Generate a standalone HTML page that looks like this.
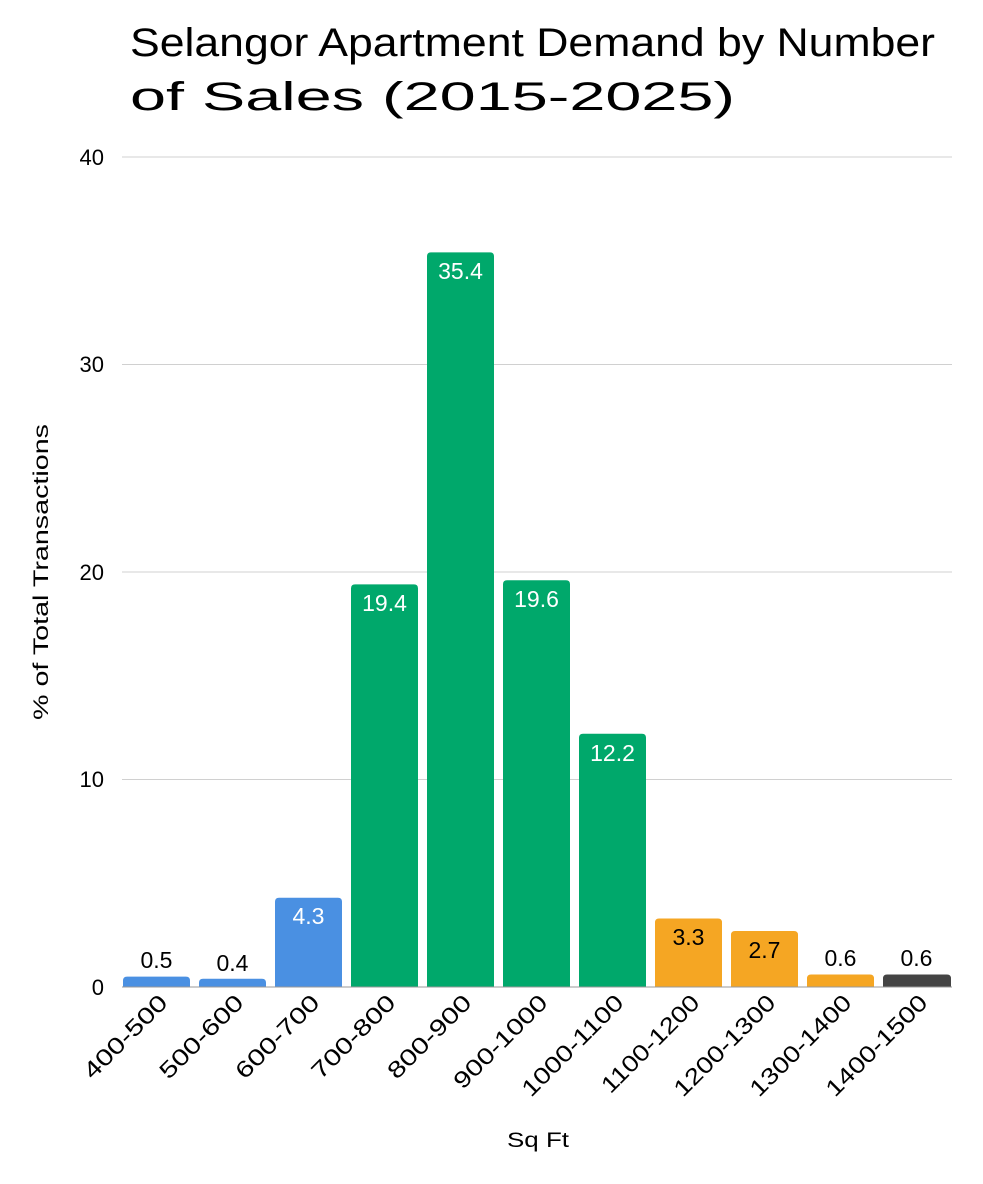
<!DOCTYPE html>
<html><head><meta charset="utf-8"><style>
html,body{margin:0;padding:0;background:#fff}
svg{display:block;font-family:"Liberation Sans",sans-serif}
</style></head><body>
<svg width="983" height="1184" viewBox="0 0 983 1184" xmlns="http://www.w3.org/2000/svg">
<text x="130" y="56" font-size="40" textLength="805" lengthAdjust="spacingAndGlyphs" fill="#000">Selangor Apartment Demand by Number</text>
<text x="130" y="110" font-size="40" textLength="605" lengthAdjust="spacingAndGlyphs" fill="#000">of Sales (2015-2025)</text>
<g stroke="#d0d0d0" stroke-width="1">
<line x1="122" y1="157" x2="952" y2="157"/>
<line x1="122" y1="364.5" x2="952" y2="364.5"/>
<line x1="122" y1="572" x2="952" y2="572"/>
<line x1="122" y1="779.5" x2="952" y2="779.5"/>
</g>
<g font-size="22" text-anchor="end" fill="#000">
<text x="104" y="165">40</text>
<text x="104" y="372">30</text>
<text x="104" y="580">20</text>
<text x="104" y="787">10</text>
<text x="104" y="995">0</text>
</g>
<text transform="translate(48,572) rotate(-90)" font-size="21" text-anchor="middle" textLength="296" lengthAdjust="spacingAndGlyphs">% of Total Transactions</text>
<text x="538" y="1147" font-size="21" text-anchor="middle" textLength="62" lengthAdjust="spacingAndGlyphs">Sq Ft</text>

<path d="M123 987V980.6Q123 976.6 127 976.6H186Q190 976.6 190 980.6V987Z" fill="#4a90e2"/>
<path d="M199 987V982.7Q199 978.7 203 978.7H262Q266 978.7 266 982.7V987Z" fill="#4a90e2"/>
<path d="M275 987V901.8Q275 897.8 279 897.8H338Q342 897.8 342 901.8V987Z" fill="#4a90e2"/>
<path d="M351 987V588.4Q351 584.4 355 584.4H414Q418 584.4 418 588.4V987Z" fill="#00a86b"/>
<path d="M427 987V256.4Q427 252.4 431 252.4H490Q494 252.4 494 256.4V987Z" fill="#00a86b"/>
<path d="M503 987V584.3Q503 580.3 507 580.3H566Q570 580.3 570 584.3V987Z" fill="#00a86b"/>
<path d="M579 987V737.8Q579 733.8 583 733.8H642Q646 733.8 646 737.8V987Z" fill="#00a86b"/>
<path d="M655 987V922.5Q655 918.5 659 918.5H718Q722 918.5 722 922.5V987Z" fill="#f5a623"/>
<path d="M731 987V935Q731 931 735 931H794Q798 931 798 935V987Z" fill="#f5a623"/>
<path d="M807 987V978.5Q807 974.5 811 974.5H870Q874 974.5 874 978.5V987Z" fill="#f5a623"/>
<path d="M883 987V978.5Q883 974.5 887 974.5H947Q951 974.5 951 978.5V987Z" fill="#444444"/>

<g font-size="23" text-anchor="middle">
<text x="156.5" y="968" fill="#000">0.5</text>
<text x="232.5" y="971" fill="#000">0.4</text>
<text x="308.5" y="924" fill="#fff">4.3</text>
<text x="384.5" y="611" fill="#fff">19.4</text>
<text x="460.5" y="279" fill="#fff">35.4</text>
<text x="536.5" y="607" fill="#fff">19.6</text>
<text x="612.5" y="761" fill="#fff">12.2</text>
<text x="688.5" y="945" fill="#000">3.3</text>
<text x="764.5" y="958" fill="#000">2.7</text>
<text x="840.5" y="966" fill="#000">0.6</text>
<text x="916.5" y="966" fill="#000">0.6</text>
</g>
<g font-size="23" text-anchor="end" fill="#000">
<text transform="translate(169,1004) rotate(-45)" textLength="108" lengthAdjust="spacingAndGlyphs">400-500</text>
<text transform="translate(245,1004) rotate(-45)" textLength="108" lengthAdjust="spacingAndGlyphs">500-600</text>
<text transform="translate(321,1004) rotate(-45)" textLength="108" lengthAdjust="spacingAndGlyphs">600-700</text>
<text transform="translate(397,1004) rotate(-45)" textLength="108" lengthAdjust="spacingAndGlyphs">700-800</text>
<text transform="translate(473,1004) rotate(-45)" textLength="108" lengthAdjust="spacingAndGlyphs">800-900</text>
<text transform="translate(549,1004) rotate(-45)" textLength="122" lengthAdjust="spacingAndGlyphs">900-1000</text>
<text transform="translate(625,1004) rotate(-45)" textLength="133" lengthAdjust="spacingAndGlyphs">1000-1100</text>
<text transform="translate(701,1004) rotate(-45)" textLength="128" lengthAdjust="spacingAndGlyphs">1100-1200</text>
<text transform="translate(777,1004) rotate(-45)" textLength="133" lengthAdjust="spacingAndGlyphs">1200-1300</text>
<text transform="translate(853,1004) rotate(-45)" textLength="133" lengthAdjust="spacingAndGlyphs">1300-1400</text>
<text transform="translate(929,1004) rotate(-45)" textLength="133" lengthAdjust="spacingAndGlyphs">1400-1500</text>
</g>
<line x1="122" y1="987" x2="952" y2="987" stroke="#999" stroke-width="1"/>
</svg>
</body></html>
